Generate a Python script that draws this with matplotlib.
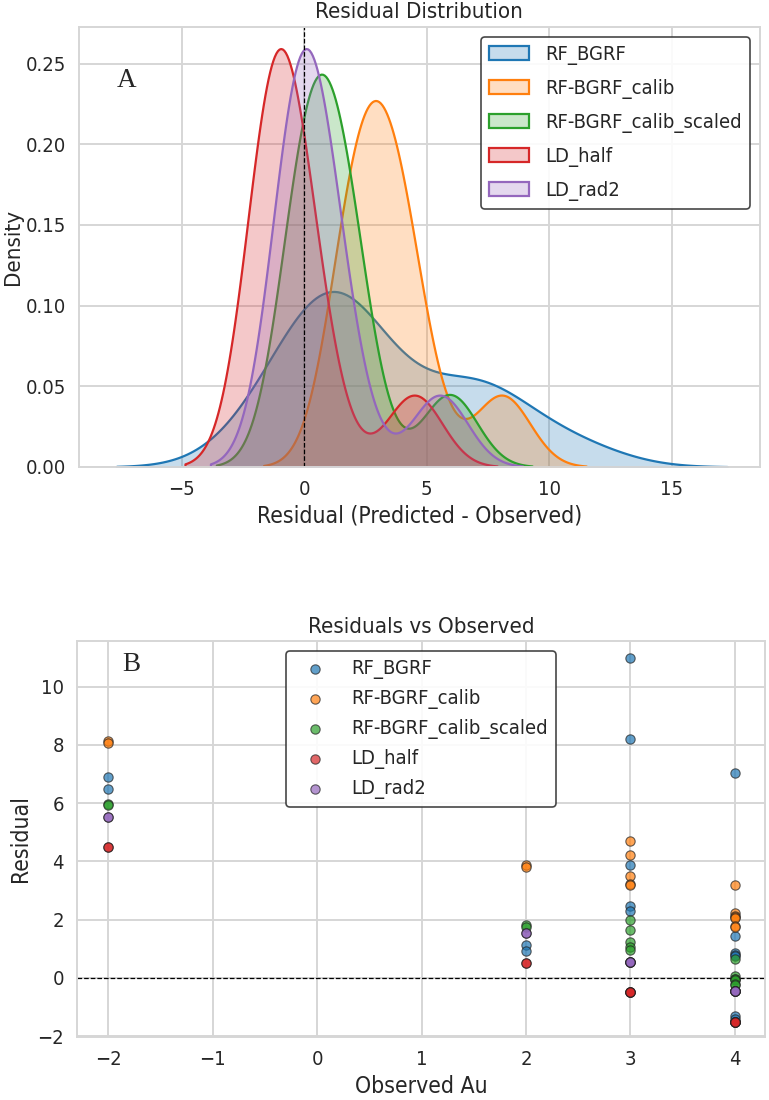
import matplotlib
matplotlib.use("Agg")
import matplotlib.pyplot as plt
from matplotlib import font_manager as fm
import numpy as np
import seaborn as sns

# ---------------- data ----------------
observed_au = [-2, -2, 2, 2, 3, 3, 3, 3, 3, 4, 4, 4, 4, 4, 4, 4]
res_rf_bgrf = [6.9, 6.5, 1.12, 0.91, 11.0, 8.2, 3.86, 2.46, 2.31, 7.05, 1.45, 0.85, 0.8, 0.75, -1.3, -1.4]
res_calib = [8.12, 8.05, 3.88, 3.82, 4.70, 4.23, 3.49, 3.21, 3.19, 3.18, 2.23, 2.11, 2.08, 2.06, 1.77, 1.73]
res_calib_scaled = [5.96, 5.92, 1.83, 1.76, 2.0, 1.66, 1.23, 1.05, 0.97, 0.65, 0.05, -0.03, -0.05, -0.08, -0.22, -0.25]
res_ld_half = [4.5, 4.5, 0.5, 0.5, -0.5, -0.5, -0.5, -0.5, -0.5, -1.5, -1.5, -1.5, -1.5, -1.5, -1.5, -1.5]
res_ld_rad2 = [5.54, 5.54, 1.54, 1.54, 0.54, 0.54, 0.54, 0.54, 0.54, -0.46, -0.46, -0.46, -0.46, -0.46, -0.46, -0.46]

model_names = ["RF_BGRF", "RF-BGRF_calib", "RF-BGRF_calib_scaled", "LD_half", "LD_rad2"]
model_residuals = [res_rf_bgrf, res_calib, res_calib_scaled, res_ld_half, res_ld_rad2]
model_colors = ["#1f77b4", "#ff7f0e", "#2ca02c", "#d62728", "#9467bd"]

kde_xticks = [-5, 0, 5, 10, 15]
kde_yticks = [0.0, 0.05, 0.10, 0.15, 0.20, 0.25]
obs_xticks = [-2, -1, 0, 1, 2, 3, 4]
res_yticks = [-2, 0, 2, 4, 6, 8, 10]

# ---------------- style ----------------
sns.set_theme(style="whitegrid")
fonts = fm.fontManager.ttflist
stretch = "normal"
family = "DejaVu Sans"
if any(f.name == "DejaVu Sans" and f.stretch == "condensed" for f in fonts):
    stretch = "condensed"
elif any(f.name == "Liberation Sans Narrow" for f in fonts):
    family = "Liberation Sans Narrow"
plt.rcParams["font.family"] = [family, "DejaVu Sans"]
plt.rcParams["font.stretch"] = stretch
plt.rcParams["grid.color"] = "#d6d6d6"
plt.rcParams["grid.linewidth"] = 1.4
plt.rcParams["axes.edgecolor"] = "#d6d6d6"
plt.rcParams["axes.linewidth"] = 1.4

fig = plt.figure(figsize=(7.69, 11.0), dpi=100)
ax1 = fig.add_axes([0.1027, 0.5757, 0.8853, 0.40])
ax2 = fig.add_axes([0.1001, 0.0573, 0.8947, 0.36])

# ---------------- panel A: KDE ----------------
for name, vals, col in zip(model_names, model_residuals, model_colors):
    sns.kdeplot(x=np.array(vals), ax=ax1, fill=True, color=col, label=name,
                linewidth=1.6, alpha=0.25)
ax1.axvline(0, color="black", linestyle="--", linewidth=0.9)
ax1.set_title("Residual Distribution", fontsize=16)
ax1.set_xlabel("Residual (Predicted - Observed)", fontsize=16.5)
ax1.set_ylabel("Density", fontsize=16, labelpad=2)
ax1.set_xticks(kde_xticks)
ax1.set_yticks(kde_yticks)
ax1.set_xlim(-9.2, 18.6)
ax1.set_ylim(0, 0.273)
ax1.yaxis.set_major_formatter(matplotlib.ticker.FormatStrFormatter("%.2f"))
ax1.tick_params(labelsize=14.5)
leg1 = ax1.legend(loc="upper right", fontsize=14.5, frameon=True, fancybox=True,
                  edgecolor="0.2", framealpha=0.9, labelspacing=0.7)
leg1.get_frame().set_linewidth(1.2)
ax1.text(0.055, 0.862, "A", transform=ax1.transAxes, fontsize=19.5,
         family=["Liberation Serif", "DejaVu Serif"], stretch="normal",
         va="baseline", ha="left")

# ---------------- panel B: scatter ----------------
for name, vals, col in zip(model_names, model_residuals, model_colors):
    ax2.scatter(observed_au, vals, s=45, color=col, alpha=0.7,
                edgecolor="#222222", linewidth=0.8, label=name, zorder=3)
ax2.axhline(0, color="black", linestyle="--", linewidth=0.9, zorder=2)
ax2.set_title("Residuals vs Observed", fontsize=16)
ax2.set_xlabel("Observed Au", fontsize=16.5)
ax2.set_ylabel("Residual", fontsize=16.5)
ax2.set_xticks(obs_xticks)
ax2.set_yticks(res_yticks)
ax2.set_xlim(-2.3, 4.29)
ax2.set_ylim(-2.03, 11.57)
ax2.tick_params(labelsize=14.5)
leg2 = ax2.legend(loc="upper center", fontsize=14.5, frameon=True, fancybox=True,
                  edgecolor="0.2", framealpha=0.9, labelspacing=0.5)
leg2.get_frame().set_linewidth(1.2)
ax2.text(0.066, 0.924, "B", transform=ax2.transAxes, fontsize=19.5,
         family=["Liberation Serif", "DejaVu Serif"], stretch="normal",
         va="baseline", ha="left")

fig.savefig("out.png", dpi=100)
